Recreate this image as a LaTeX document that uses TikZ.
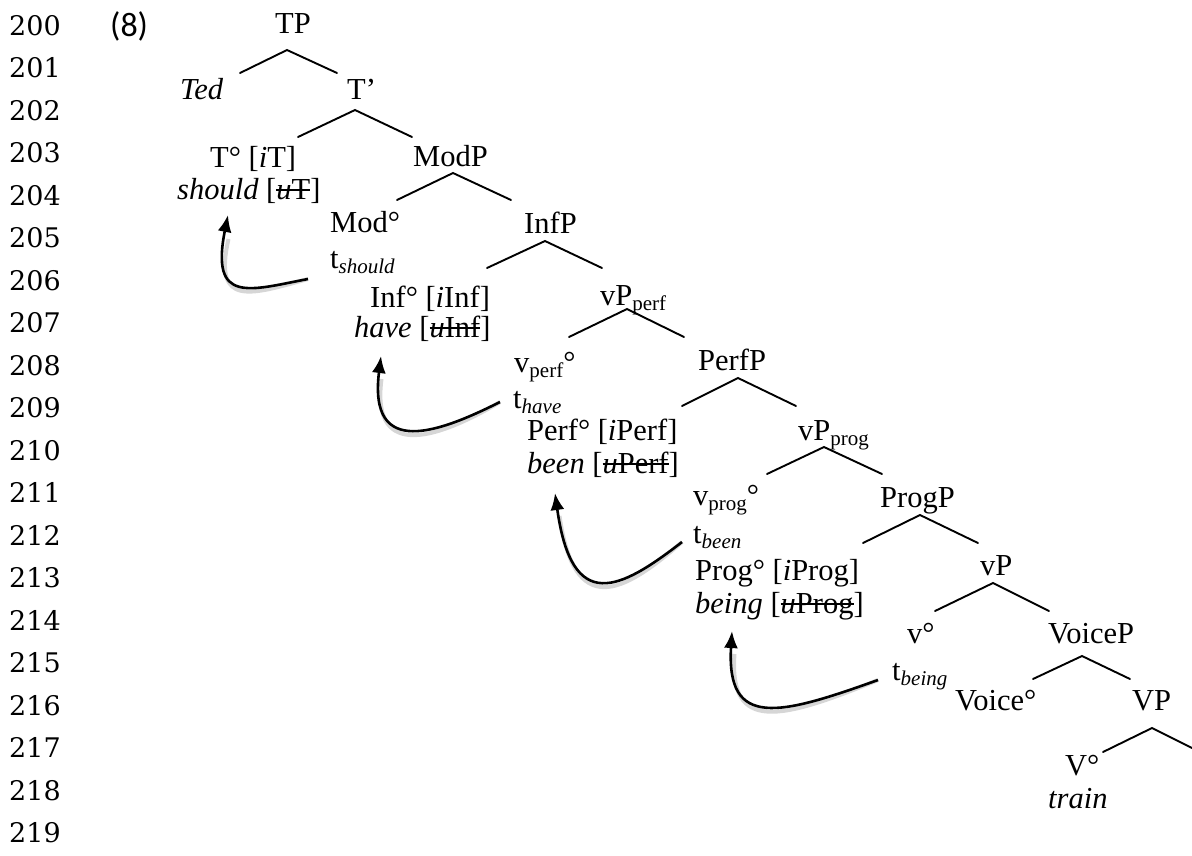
\documentclass[tikz,border=0pt]{standalone}
\usepackage{fontspec}
\setmainfont{Liberation Serif}
\newfontfamily\numfont{DejaVu Serif}
\newfontfamily\exfont{Carlito}
\usetikzlibrary{arrows.meta}
\newcommand\stk[1]{\setbox0\hbox{#1}\rlap{\rule[0.26em]{\wd0}{0.055em}}\box0}
\newcommand\sbs[1]{\lower5pt\hbox{\fontsize{21}{21}\selectfont #1}}
\newcommand\sbi[1]{\lower5pt\hbox{\fontsize{21}{21}\selectfont\itshape #1}}
\tikzset{
  tx/.style={anchor=base west, inner sep=0pt, font=\fontsize{30.5}{32}\selectfont},
  lnum/.style={anchor=base west, inner sep=0pt, font=\numfont\fontsize{27}{27}\selectfont},
  branch/.style={line width=1.9pt, line cap=round},
  mvarrow/.style={line width=2.6pt, -{Latex[length=17pt,width=14pt]}},
  mvshadow/.style={line width=4pt, draw=black!16, shift={(2.5,4)}}
}
\begin{document}
\begin{tikzpicture}[x=1pt,y=-1pt]
\useasboundingbox (0,0) rectangle (1192,855);
% line numbers
\foreach \i [count=\k from 0] in {200,...,219}{
  \node[lnum] (ln\i) at (9,{35+42.5*\k}) {\i};
}
\node[anchor=base west, inner sep=0pt, font=\exfont\fontsize{34}{34}\selectfont] (ex) at (110,36) {(8)};
% tree labels
\node[tx] (TP) at (275,33) {TP};
\node[tx] (Ted) at (180,99) {\itshape Ted};
\node[tx] (Tbar) at (347,99) {T’};
\node[tx] (T0) at (210,167) {T° [\textit{i}T]};
\node[tx] (should) at (177,199) {\textit{should} [\stk{\textit{u}T}]};
\node[tx] (ModP) at (413,166) {ModP};
\node[tx] (Mod0) at (330,232) {Mod°};
\node[tx] (tshould) at (330,268) {t\sbi{should}};
\node[tx] (InfP) at (524,233) {InfP};
\node[tx] (Inf0) at (370,307) {Inf° [\textit{i}Inf]};
\node[tx] (have) at (354,337) {\textit{have} [\stk{\textit{u}Inf}]};
\node[tx] (vPperf) at (600,305) {vP\sbs{perf}};
\node[tx] (vperf) at (514,372) {v\sbs{perf}°};
\node[tx] (thave) at (513,408) {t\sbi{have}};
\node[tx] (PerfP) at (698,370) {PerfP};
\node[tx] (Perf0) at (527,440) {Perf° [\textit{i}Perf]};
\node[tx] (been) at (527,473) {\textit{been} [\stk{\textit{u}Perf}]};
\node[tx] (vPprog) at (798,440) {vP\sbs{prog}};
\node[tx] (vprog) at (693,505) {v\sbs{prog}°};
\node[tx] (tbeen) at (693,543) {t\sbi{been}};
\node[tx] (ProgP) at (880,507) {ProgP};
\node[tx] (Prog0) at (695,580) {Prog° [\textit{i}Prog]};
\node[tx] (being) at (695,613) {\textit{being} [\stk{\textit{u}Prog}]};
\node[tx] (vP) at (980,575) {vP};
\node[tx] (v0) at (907,643) {v°};
\node[tx] (VoiceP) at (1048,643) {VoiceP};
\node[tx] (tbeing) at (892,680) {t\sbi{being}};
\node[tx] (Voice0) at (955,710) {Voice°};
\node[tx] (VP) at (1132,710) {VP};
\node[tx] (V0) at (1065,775) {V°};
\node[tx] (train) at (1048,808) {\itshape train};
% branch coordinates
\coordinate (aTP) at (287,50);  \coordinate (lTP) at (240,73);  \coordinate (rTP) at (337,73);
\coordinate (aTb) at (355,110); \coordinate (lTb) at (298,137); \coordinate (rTb) at (412,137);
\coordinate (aMod) at (453,173); \coordinate (lMod) at (397,200); \coordinate (rMod) at (511,200);
\coordinate (aInf) at (545,241); \coordinate (lInf) at (487,268); \coordinate (rInf) at (602,268);
\coordinate (avpf) at (627,309); \coordinate (lvpf) at (569,337); \coordinate (rvpf) at (684,337);
\coordinate (aPerf) at (738,378); \coordinate (lPerf) at (682,406); \coordinate (rPerf) at (796,406);
\coordinate (avpg) at (824,447); \coordinate (lvpg) at (767,474); \coordinate (rvpg) at (882,474);
\coordinate (aProg) at (920,515); \coordinate (lProg) at (863,543); \coordinate (rProg) at (978,543);
\coordinate (avP) at (993,583); \coordinate (lvP) at (935,611); \coordinate (rvP) at (1049,611);
\coordinate (aVoi) at (1082,656); \coordinate (lVoi) at (1033,679); \coordinate (rVoi) at (1130,679);
\coordinate (aVP) at (1152,728); \coordinate (lVP) at (1103,752); \coordinate (rVP) at (1192,748);
\foreach \n in {TP,Tb,Mod,Inf,vpf,Perf,vpg,Prog,vP,Voi,VP}{
  \draw[branch] (l\n) -- (a\n) -- (r\n);
}
% movement arrows
\coordinate (s1) at (308,279); \coordinate (e1) at (228,215);
\coordinate (s2) at (500,402); \coordinate (e2) at (381,356);
\coordinate (s3) at (682,542); \coordinate (e3) at (555,493);
\coordinate (s4) at (878,680); \coordinate (e4) at (732,631);
\begin{scope}
\draw[mvshadow] (s1) .. controls (250,290) and (210,305) .. (226,235);
\draw[mvshadow] (s2) .. controls (440,432) and (368,460) .. (379,375);
\draw[mvshadow] (s3) .. controls (620,590) and (572,615) .. (557,512);
\draw[mvshadow] (s4) .. controls (780,715) and (726,730) .. (732,650);
\end{scope}
\draw[mvarrow] (s1) .. controls (250,290) and (210,305) .. (e1);
\draw[mvarrow] (s2) .. controls (440,432) and (368,460) .. (e2);
\draw[mvarrow] (s3) .. controls (620,590) and (572,615) .. (e3);
\draw[mvarrow] (s4) .. controls (780,715) and (726,730) .. (e4);
\end{tikzpicture}
\end{document}
